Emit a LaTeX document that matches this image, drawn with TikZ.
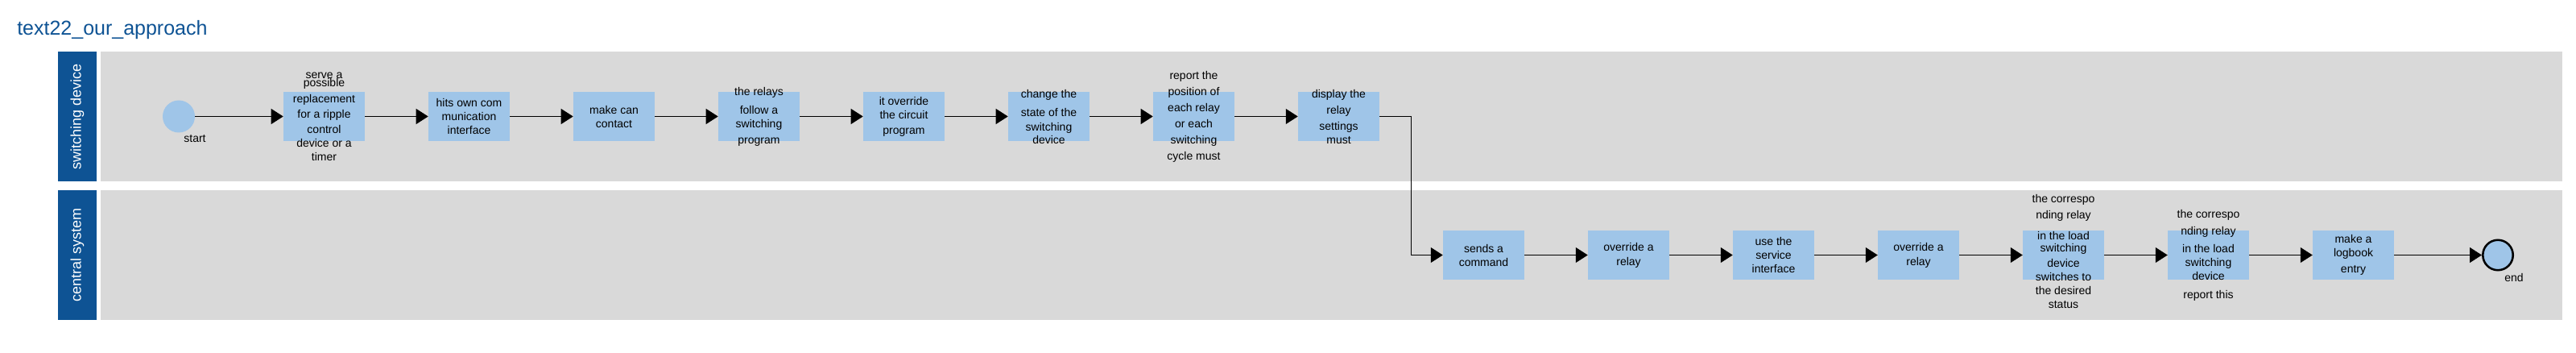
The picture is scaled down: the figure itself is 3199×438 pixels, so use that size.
\documentclass[tikz,border=0pt]{standalone}
\usepackage{fontspec}
\setmainfont{Liberation Sans}
\usepackage{xcolor}
\usetikzlibrary{arrows.meta, positioning}

\definecolor{laneblue}{RGB}{14,83,148}
\definecolor{lanegray}{RGB}{217,217,217}
\definecolor{taskblue}{RGB}{159,197,232}

\begin{document}
\begin{tikzpicture}[x=0.75pt, y=-0.75pt,
      lanehead/.style={rectangle, fill=laneblue, text=white, rotate=90, inner sep=0,
        minimum width=120.75pt, minimum height=36pt, font=\fontsize{13.5}{16}\selectfont},
      lanebody/.style={rectangle, fill=lanegray, inner sep=0, minimum width=2292.75pt, minimum height=120.75pt},
      task/.style={rectangle, fill=taskblue, inner sep=0, minimum width=75.75pt, minimum height=45.75pt},
      tasktext/.style={align=center, inner sep=0, font=\fontsize{10.5}{12.75}\selectfont},
      startev/.style={circle, fill=taskblue, inner sep=0, minimum size=30pt},
      endev/.style={circle, draw, line width=1.9pt, fill=taskblue, inner sep=0, minimum size=28.1pt},
      evlabel/.style={inner sep=0, font=\fontsize{10.5}{12.75}\selectfont},
      arrow/.style={-{Triangle[length=11.25pt, width=14.25pt]}, line width=0.75pt}
    ]
    \useasboundingbox (0,0) rectangle (3199,438);

    % Title
    \node[anchor=base west, inner sep=0, text=laneblue, font=\fontsize{18.75}{22}\selectfont] (title) at (21,44) {text22\_our\_approach};

    % Lanes
    \node[lanehead] (swhead) at (96,144.5) {switching device};
    \node[lanebody] (swlane) at (1653.5,144.5) {};
    \node[lanehead] (cshead) at (96,316.5) {central system};
    \node[lanebody] (cslane) at (1653.5,316.5) {};

    % Events
    \node[startev] (start) at (222,144.5) {};
    \node[evlabel] (startlbl) at (242,172) {start};
    \node[endev] (finish) at (3102,316.5) {};
    \node[evlabel] (finishlbl) at (3122,344) {end};

    % Tasks of the switching device
    \node[task, label={[tasktext]center:serve a\\[-5pt]possible\\[2pt]replacement\\[2pt]for a ripple\\[1pt]control\\device or a\\timer}] (b1) at (402.5,144.5) {};
    \node[task, label={[tasktext]center:hits own com\\munication\\interface}] (b2) at (582.5,144.5) {};
    \node[task, label={[tasktext]center:make can\\contact}] (b3) at (762.5,144.5) {};
    \node[task, label={[tasktext]center:the relays\\[4.5pt]follow a\\switching\\[2.25pt]program}] (b4) at (942.5,144.5) {};
    \node[task, label={[tasktext]center:it override\\the circuit\\[1.5pt]program}] (b5) at (1122.5,144.5) {};
    \node[task, label={[tasktext]center:change the\\[4.5pt]state of the\\[0.75pt]switching\\[-0.75pt]device}] (b6) at (1302.5,144.5) {};
    \node[task, label={[tasktext]center:report the\\[2.25pt]position of\\[2.25pt]each relay\\[2.25pt]or each\\[2.25pt]switching\\[2.25pt]cycle must}] (b7) at (1482.5,144.5) {};
    \node[task, label={[tasktext]center:display the\\[2.25pt]relay\\[2.25pt]settings\\must}] (b8) at (1662.5,144.5) {};

    % Tasks of the central system
    \node[task, label={[tasktext]center:sends a\\command}] (b9) at (1842.5,316.5) {};
    \node[task, label={[tasktext]center:override a\\[0.75pt]relay}] (b10) at (2022.5,316.5) {};
    \node[task, label={[tasktext]center:use the\\service\\interface}] (b11) at (2202.5,316.5) {};
    \node[task, label={[tasktext]center:override a\\[0.75pt]relay}] (b12) at (2382.5,316.5) {};
    \node[task, label={[tasktext, yshift=3.75pt]center:the correspo\\[2.25pt]nding relay\\[6.75pt]in the load\\[-1.5pt]switching\\[1.5pt]device\\switches to\\the desired\\status}] (b13) at (2562.5,316.5) {};
    \node[task, label={[tasktext]center:the correspo\\[3pt]nding relay\\[3.75pt]in the load\\switching\\device\\[4.5pt]report this}] (b14) at (2742.5,316.5) {};
    \node[task, label={[tasktext]center:make a\\logbook\\[2.25pt]entry}] (b15) at (2922.5,316.5) {};

    \coordinate (bend) at (1752,144.5);

    % Flow
    \draw[arrow] (start) -- (b1);
    \draw[arrow] (b1) -- (b2);
    \draw[arrow] (b2) -- (b3);
    \draw[arrow] (b3) -- (b4);
    \draw[arrow] (b4) -- (b5);
    \draw[arrow] (b5) -- (b6);
    \draw[arrow] (b6) -- (b7);
    \draw[arrow] (b7) -- (b8);
    \draw[arrow] (b8.east) -- (bend) |- (b9.west);
    \draw[arrow] (b9) -- (b10);
    \draw[arrow] (b10) -- (b11);
    \draw[arrow] (b11) -- (b12);
    \draw[arrow] (b12) -- (b13);
    \draw[arrow] (b13) -- (b14);
    \draw[arrow] (b14) -- (b15);
    \draw[arrow] (b15) -- (finish);
  \end{tikzpicture}
\end{document}
